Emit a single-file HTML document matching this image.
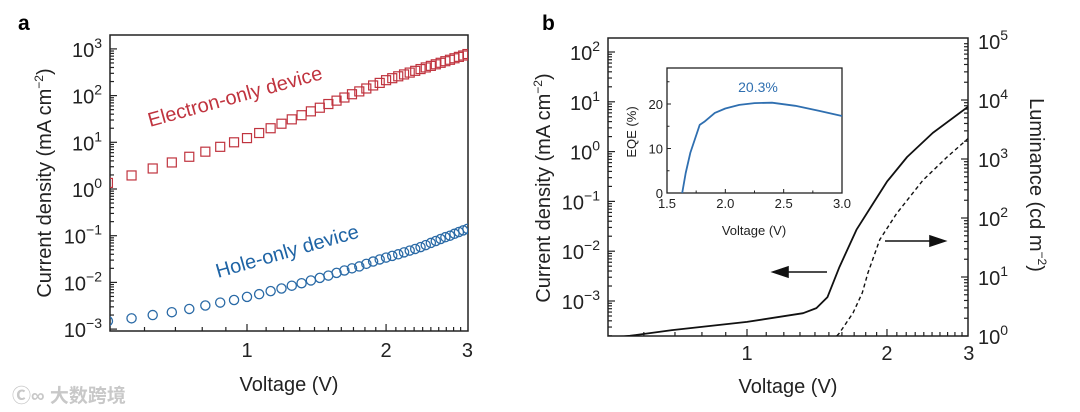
<!DOCTYPE html>
<html><head><meta charset="utf-8"><style>
body{margin:0;background:#fff;}
svg{display:block;font-family:"Liberation Sans","Noto Sans CJK SC",sans-serif;}
</style></head><body>
<svg id="c" width="1080" height="412" viewBox="0 0 1080 412"></svg>
<script>
const voltages=[0.5,0.5625,0.625,0.6875,0.75,0.8125,0.875,0.9375,1.0,1.0625,1.125,1.1875,1.25,1.3125,1.375,1.4375,1.5,1.5625,1.625,1.6875,1.75,1.8125,1.875,1.9375,2.0,2.0625,2.125,2.1875,2.25,2.3125,2.375,2.4375,2.5,2.5625,2.625,2.6875,2.75,2.8125,2.875,2.9375,3.0];
const electronJ=[1.35,1.95,2.75,3.7,4.9,6.3,8.0,10,12.3,15.8,20,25,31,38,46,55,66,78,91,107,123,142,165,187,214,236,259,284,311,339,370,401,433,468,504,545,585,630,675,722,776];
const holeJ=[0.00148,0.0017,0.002,0.0023,0.0027,0.0032,0.0037,0.0042,0.0049,0.0056,0.0065,0.0074,0.0085,0.0096,0.011,0.0125,0.014,0.016,0.018,0.020,0.022,0.025,0.028,0.031,0.034,0.037,0.040,0.044,0.048,0.052,0.057,0.063,0.070,0.077,0.085,0.093,0.10,0.11,0.12,0.13,0.14];
const jvV=[0.5,0.56,0.69,1.0,1.32,1.41,1.49,1.58,1.72,1.87,2.0,2.21,2.51,3.0];
const jvJ=[0.00018,0.0002,0.00026,0.00038,0.00057,0.00072,0.0012,0.0048,0.027,0.093,0.25,0.78,2.37,8.2];
const lumV=[1.56,1.58,1.69,1.77,1.82,1.93,2.1,2.39,2.69,3.0];
const lumL=[1.0,1.12,2.45,5.4,11.7,43,120,437,1070,2290];
const eqeV=[1.63,1.66,1.70,1.78,1.82,1.91,2.0,2.12,2.25,2.4,2.6,2.8,3.0];
const eqeVal=[0,4.5,9,15.3,16,18,19,19.8,20.2,20.3,19.6,18.5,17.3];
const yTicksA=[3,2,1,0,-1,-2,-3];
const yTicksBL=[2,1,0,-1,-2,-3];
const yTicksBR=[5,4,3,2,1,0];
const xTicks=[1,2,3];
const inXTicks=[1.5,2.0,2.5,3.0];
const inYTicks=[0,10,20];

const NS="http://www.w3.org/2000/svg";
const svg=document.getElementById('c');
function mk(tag,attrs,parent,text){const e=document.createElementNS(NS,tag);for(const k in attrs)e.setAttribute(k,attrs[k]);if(text!==undefined)e.textContent=text;(parent||svg).appendChild(e);return e;}
function sup(el,base,exp){const t1=document.createElementNS(NS,'tspan');t1.textContent=base;el.appendChild(t1);const t2=document.createElementNS(NS,'tspan');t2.setAttribute('dy','-9');t2.setAttribute('font-size','14');t2.textContent=exp;el.appendChild(t2);}
const fmtExp=e=>e<0?'\u2212'+(-e):''+e;

// ---------- Panel a ----------
const A={x0:110,x1:468,y0:35,y1:331};
const axA=v=>247+462*Math.log10(v);
const ayA=j=>189-46.7*Math.log10(j);
let lab=mk('text',{x:18,y:30,'font-size':21,'font-weight':'bold'},svg,'a');

let g=mk('g',{});
let fr=mk('rect',{x:A.x0,y:A.y0,width:A.x1-A.x0,height:A.y1-A.y0,fill:'none',stroke:'#222','stroke-width':1.5},g);

for(let v=0.6;v<3.0;v+=0.1){const x=axA(v);if(x<=A.x0+1)continue;const maj=Math.abs(v-1)<0.01||Math.abs(v-2)<0.01;mk('line',{x1:x,x2:x,y1:A.y1,y2:A.y1-(maj?7:4),stroke:'#222','stroke-width':1.2},g);}
for(let e=-3;e<=3;e++){for(let m=1;m<10;m++){const y=ayA(m*Math.pow(10,e));if(y<A.y0||y>A.y1)continue;mk('line',{x1:A.x0,x2:A.x0+(m==1?7:4),y1:y,y2:y,stroke:'#222','stroke-width':1.2},g);}}
yTicksA.forEach(e=>{const t=mk('text',{x:A.x0-8,y:ayA(Math.pow(10,e))+8,'font-size':20,'text-anchor':'end',fill:'#222'},g);sup(t,'10',fmtExp(e));});
xTicks.forEach(v=>{const t=mk('text',{x:axA(v),y:357,'font-size':20,'text-anchor':'middle',fill:'#222'},g,''+v);});
let t=mk('text',{x:289,y:391,'font-size':20,'text-anchor':'middle',fill:'#222'},g,'Voltage (V)');
t=mk('text',{x:0,y:0,'font-size':20,'text-anchor':'middle',fill:'#222',transform:'translate(51,183) rotate(-90)'},g);
t.appendChild(document.createTextNode('Current density (mA cm'));{const s=document.createElementNS(NS,'tspan');s.setAttribute('dy','-8');s.setAttribute('font-size','12');s.textContent='\u22122';t.appendChild(s);const s2=document.createElementNS(NS,'tspan');s2.setAttribute('dy','8');s2.textContent=')';t.appendChild(s2);}

const cp=mk('clipPath',{id:'ca'});mk('rect',{x:A.x0,y:A.y0,width:A.x1-A.x0,height:A.y1-A.y0},cp);
const ga=mk('g',{'clip-path':'url(#ca)'},g);
voltages.forEach((v,i)=>{
 const r=mk('rect',{x:axA(v)-4.5,y:ayA(electronJ[i])-4.5,width:9,height:9,fill:'none',stroke:'#c0343f','stroke-width':1.2},ga);
 
 const c=mk('circle',{cx:axA(v),cy:ayA(holeJ[i]),r:4.6,fill:'none',stroke:'#2a6aa6','stroke-width':1.3},ga);
 
});
t=mk('text',{x:0,y:0,'font-size':20,fill:'#c0343f',transform:'translate(150,127) rotate(-15.5)'},g,'Electron-only device');
t=mk('text',{x:0,y:0,'font-size':20,fill:'#1f64a5',transform:'translate(218,278) rotate(-16)'},g,'Hole-only device');

// ---------- Panel b ----------
const B={x0:608,x1:968,y0:38,y1:336};
const axB=v=>747+465*Math.log10(v);
const ayJ=j=>151.6-49.8*Math.log10(j);
const ayL=l=>336-59*Math.log10(l);
lab=mk('text',{x:542,y:30,'font-size':21,'font-weight':'bold'},svg,'b');
g=mk('g',{});
fr=mk('rect',{x:B.x0,y:B.y0,width:B.x1-B.x0,height:B.y1-B.y0,fill:'none',stroke:'#222','stroke-width':1.5},g);

for(let v=0.6;v<3.0;v+=0.1){const x=axB(v);const maj=Math.abs(v-1)<0.01||Math.abs(v-2)<0.01;mk('line',{x1:x,x2:x,y1:B.y1,y2:B.y1-(maj?7:4),stroke:'#222','stroke-width':1.2},g);}
for(let e=-4;e<=2;e++){for(let m=1;m<10;m++){const y=ayJ(m*Math.pow(10,e));if(y<B.y0||y>B.y1)continue;mk('line',{x1:B.x0,x2:B.x0+(m==1?7:4),y1:y,y2:y,stroke:'#222','stroke-width':1.2},g);}}
for(let e=0;e<=4;e++){for(let m=1;m<10;m++){const y=ayL(m*Math.pow(10,e));if(y<B.y0||y>B.y1)continue;mk('line',{x1:B.x1,x2:B.x1-(m==1?7:4),y1:y,y2:y,stroke:'#222','stroke-width':1.2},g);}}
yTicksBL.forEach(e=>{const t=mk('text',{x:B.x0-8,y:ayJ(Math.pow(10,e))+8,'font-size':20,'text-anchor':'end',fill:'#222'},g);sup(t,'10',fmtExp(e));});
yTicksBR.forEach(e=>{const t=mk('text',{x:B.x1+10,y:ayL(Math.pow(10,e))+8,'font-size':20,'text-anchor':'start',fill:'#222'},g);sup(t,'10',''+e);});
xTicks.forEach(v=>{const t=mk('text',{x:axB(v),y:360,'font-size':20,'text-anchor':'middle',fill:'#222'},g,''+v);});
t=mk('text',{x:788,y:393,'font-size':20,'text-anchor':'middle',fill:'#222'},g,'Voltage (V)');
t=mk('text',{x:0,y:0,'font-size':20,'text-anchor':'middle',fill:'#222',transform:'translate(550,188) rotate(-90)'},g);
t.appendChild(document.createTextNode('Current density (mA cm'));{const s=document.createElementNS(NS,'tspan');s.setAttribute('dy','-8');s.setAttribute('font-size','12');s.textContent='\u22122';t.appendChild(s);const s2=document.createElementNS(NS,'tspan');s2.setAttribute('dy','8');s2.textContent=')';t.appendChild(s2);}

t=mk('text',{x:0,y:0,'font-size':20,'text-anchor':'middle',fill:'#222',transform:'translate(1030,185) rotate(90)'},g);
t.appendChild(document.createTextNode('Luminance (cd m'));{const s=document.createElementNS(NS,'tspan');s.setAttribute('dy','-8');s.setAttribute('font-size','12');s.textContent='\u22122';t.appendChild(s);const s2=document.createElementNS(NS,'tspan');s2.setAttribute('dy','8');s2.textContent=')';t.appendChild(s2);}

const cpb=mk('clipPath',{id:'cb'});mk('rect',{x:B.x0,y:B.y0,width:B.x1-B.x0,height:B.y1-B.y0},cpb);
const gb=mk('g',{'clip-path':'url(#cb)'},g);
let p=mk('path',{d:jvV.map((v,i)=>(i?'L':'M')+axB(v).toFixed(1)+','+ayJ(jvJ[i]).toFixed(1)).join(''),fill:'none',stroke:'#111','stroke-width':1.8,'stroke-linejoin':'round'},gb);

p=mk('path',{d:lumV.map((v,i)=>(i?'L':'M')+axB(v).toFixed(1)+','+ayL(lumL[i]).toFixed(1)).join(''),fill:'none',stroke:'#111','stroke-width':1.4,'stroke-dasharray':'4,3'},gb);

p=mk('path',{d:'M827,272 L786,272 M773,272 L788,267 L788,277 Z',stroke:'#111','stroke-width':1.6,fill:'#111'},g);

p=mk('path',{d:'M885,241 L932,241 M945,241 L930,236 L930,246 Z',stroke:'#111','stroke-width':1.6,fill:'#111'},g);


// ---------- Inset ----------
const I={x0:667,x1:842,y0:68,y1:193};
const axI=v=>I.x0+(v-1.5)/1.5*(I.x1-I.x0);
const ayI=e=>I.y1-e*4.45;
const gi=mk('g',{});
mk('rect',{x:I.x0,y:I.y0,width:I.x1-I.x0,height:I.y1-I.y0,fill:'#fff',stroke:'#222','stroke-width':1.3},gi);
for(let v=1.5;v<=3.001;v+=0.25){const x=axI(v);const maj=Math.abs((v*2)-Math.round(v*2))<0.01;mk('line',{x1:x,x2:x,y1:I.y1,y2:I.y1-(maj?4:2.5),stroke:'#222','stroke-width':1},gi);}
for(let e=0;e<=25;e+=5){const y=ayI(e);mk('line',{x1:I.x0,x2:I.x0+(e%10==0?4:2.5),y1:y,y2:y,stroke:'#222','stroke-width':1},gi);}
inXTicks.forEach(v=>{const t=mk('text',{x:axI(v),y:I.y1+15,'font-size':13,'text-anchor':'middle',fill:'#222'},gi,v.toFixed(1));});
inYTicks.forEach(e=>{const t=mk('text',{x:I.x0-4,y:ayI(e)+5,'font-size':13,'text-anchor':'end',fill:'#222'},gi,''+e);});
t=mk('text',{x:754,y:235,'font-size':13,'text-anchor':'middle',fill:'#222'},gi,'Voltage (V)');
t=mk('text',{x:0,y:0,'font-size':13,'text-anchor':'middle',fill:'#222',transform:'translate(636,132) rotate(-90)'},gi,'EQE (%)');
p=mk('path',{d:eqeV.map((v,i)=>(i?'L':'M')+axI(v).toFixed(1)+','+ayI(eqeVal[i]).toFixed(1)).join(''),fill:'none',stroke:'#2f6fb0','stroke-width':1.8,'stroke-linejoin':'round'},gi);

t=mk('text',{x:758,y:92,'font-size':14,'text-anchor':'middle',fill:'#2f6fb0'},gi,'20.3%');

// watermark
t=mk('text',{x:12,y:402,'font-size':19,fill:'#c8c8c8','font-weight':'bold'},svg,'Ⓒ∞ 大数跨境');
</script>
</body></html>
